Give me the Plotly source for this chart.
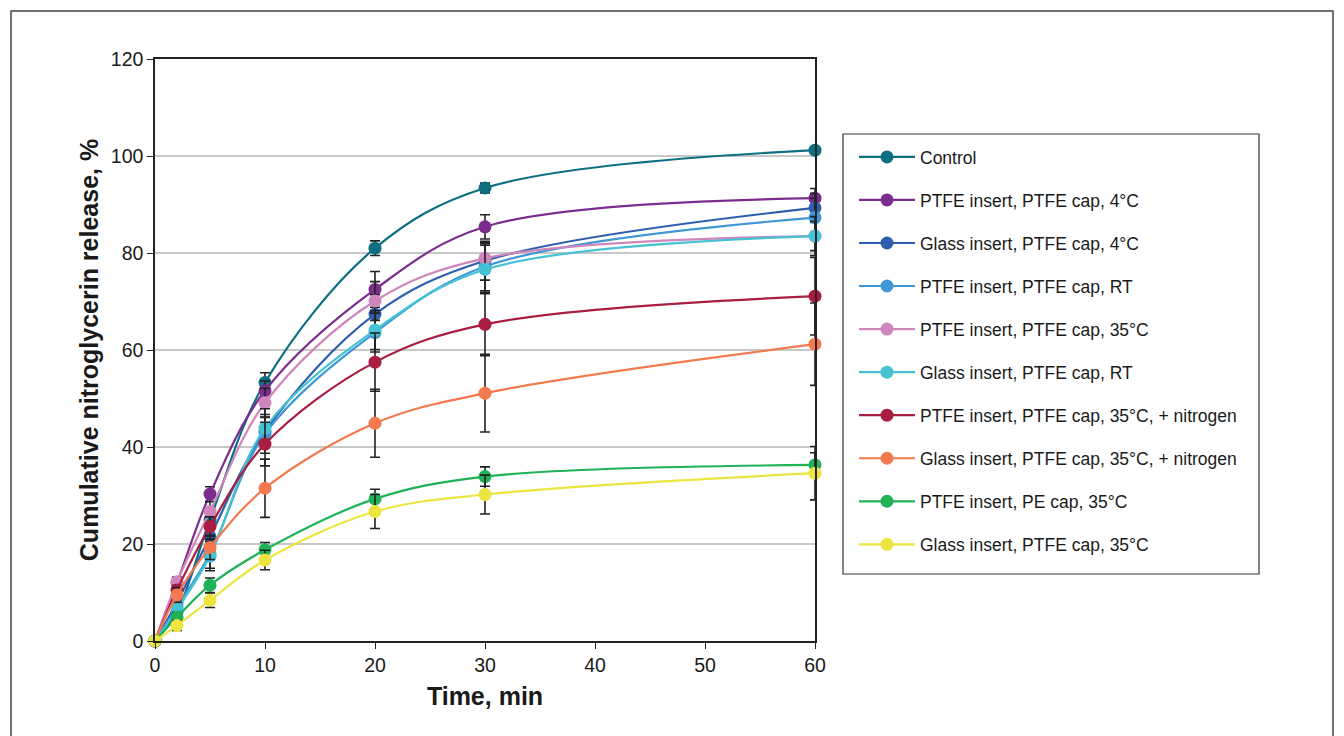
import plotly.graph_objects as go

time_min = [0, 2, 5, 10, 20, 30, 60]

series_names = [
    "Control",
    "PTFE insert, PTFE cap, 4°C",
    "Glass insert, PTFE cap, 4°C",
    "PTFE insert, PTFE cap, RT",
    "PTFE insert, PTFE cap, 35°C",
    "Glass insert, PTFE cap, RT",
    "PTFE insert, PTFE cap, 35°C, + nitrogen",
    "Glass insert, PTFE cap, 35°C, + nitrogen",
    "PTFE insert, PE cap, 35°C",
    "Glass insert, PTFE cap, 35°C",
]

control = [0, 6.0, 25.0, 53.3, 81.0, 93.4, 101.2]
ptfe_ptfe_4c = [0, 12.0, 30.3, 51.6, 72.5, 85.4, 91.3]
glass_ptfe_4c = [0, 8.0, 21.5, 43.2, 67.4, 78.4, 89.3]
ptfe_ptfe_rt = [0, 7.0, 18.0, 42.7, 63.6, 77.2, 87.3]
ptfe_ptfe_35c = [0, 12.2, 26.7, 49.1, 70.1, 78.9, 83.5]
glass_ptfe_rt = [0, 6.5, 17.5, 43.9, 64.1, 76.6, 83.5]
ptfe_ptfe_35c_n2 = [0, 10.5, 23.6, 40.6, 57.5, 65.3, 71.1]
glass_ptfe_35c_n2 = [0, 9.5, 19.3, 31.5, 44.9, 51.1, 61.2]
ptfe_pe_35c = [0, 4.9, 11.5, 18.8, 29.3, 33.9, 36.3]
glass_ptfe_35c = [0, 3.2, 8.4, 16.7, 26.7, 30.2, 34.6]

err_control = [0, 1.0, 1.0, 2.0, 1.5, 1.0, 0.5]
err_ptfe_ptfe_4c = [0, 1.0, 1.5, 2.0, 3.7, 2.5, 2.0]
err_glass_ptfe_4c = [0, 1.5, 2.0, 3.0, 4.0, 4.0, 3.0]
err_ptfe_ptfe_rt = [0, 2.0, 3.0, 4.0, 4.0, 5.0, 4.0]
err_ptfe_ptfe_35c = [0, 1.0, 2.0, 3.0, 4.0, 3.0, 3.0]
err_glass_ptfe_rt = [0, 2.0, 3.0, 4.0, 4.0, 5.0, 4.0]
err_ptfe_ptfe_35c_n2 = [0, 1.0, 2.0, 4.5, 6.0, 6.5, 8.0]
err_glass_ptfe_35c_n2 = [0, 1.5, 2.5, 6.0, 7.0, 8.0, 8.5]
err_ptfe_pe_35c = [0, 1.0, 1.5, 1.5, 2.0, 2.0, 2.5]
err_glass_ptfe_35c = [0, 1.0, 1.5, 2.0, 3.5, 4.0, 5.5]

series_values = [control, ptfe_ptfe_4c, glass_ptfe_4c, ptfe_ptfe_rt, ptfe_ptfe_35c,
                 glass_ptfe_rt, ptfe_ptfe_35c_n2, glass_ptfe_35c_n2, ptfe_pe_35c, glass_ptfe_35c]
series_errors = [err_control, err_ptfe_ptfe_4c, err_glass_ptfe_4c, err_ptfe_ptfe_rt, err_ptfe_ptfe_35c,
                 err_glass_ptfe_rt, err_ptfe_ptfe_35c_n2, err_glass_ptfe_35c_n2, err_ptfe_pe_35c, err_glass_ptfe_35c]
colors = ["#0e6f82", "#7b2d8e", "#2e5fae", "#3f97d6", "#cf86bd",
          "#45c2d4", "#a81d40", "#f37a4e", "#1fb257", "#ece540"]

x_ticks = [0, 10, 20, 30, 40, 50, 60]
y_ticks = [0, 20, 40, 60, 80, 100, 120]

FONT = "Liberation Sans, Arial, Helvetica, sans-serif"
L, R, T, B = 155, 815, 59, 641
W, H = R - L, B - T


def px_x(p):
    return (p - L) / W


def px_y(p):
    return (B - p) / H


fig = go.Figure()
for i, (name, vals, errs, col) in enumerate(zip(series_names, series_values, series_errors, colors)):
    fig.add_trace(go.Scatter(
        x=time_min, y=vals, name=name, mode="lines+markers",
        legendgroup=f"g{i}",
        line=dict(color=col, width=2.2, shape="spline", smoothing=1.0),
        marker=dict(color=col, size=13),
        error_y=dict(type="data", array=errs, visible=True, color="#222222", thickness=1.6, width=5),
        cliponaxis=False,
    ))

# outer frame
fig.add_shape(type="rect", xref="paper", yref="paper",
              x0=px_x(11), x1=px_x(1333), y0=px_y(780), y1=px_y(11),
              line=dict(color="#444444", width=1.5), layer="below")
# legend box
fig.add_shape(type="rect", xref="paper", yref="paper",
              x0=px_x(843), x1=px_x(1259), y0=px_y(574), y1=px_y(134),
              line=dict(color="#333333", width=1.2), layer="below")

fig.update_layout(
    width=1344, height=736,
    margin=dict(l=L, r=1344 - R, t=T, b=736 - B),
    paper_bgcolor="white", plot_bgcolor="white",
    font=dict(family=FONT, color="#1a1a1a"),
    showlegend=True,
    legend=dict(
        x=px_x(854), y=px_y(139), xanchor="left", yanchor="top",
        borderwidth=0, bgcolor="rgba(0,0,0,0)",
        font=dict(size=17.5, family=FONT, color="#1a1a1a"),
        tracegroupgap=17.3, itemwidth=56,
    ),
    xaxis=dict(
        range=[0, 60], tickvals=x_ticks, ticktext=[str(v) for v in x_ticks],
        ticks="outside", ticklen=6, tickcolor="#222", tickfont=dict(size=19.5),
        showline=True, linecolor="#222", linewidth=1.5, mirror=True,
        showgrid=False, zeroline=False,
        title=dict(text="<b>Time, min</b>", font=dict(size=25), standoff=12),
    ),
    yaxis=dict(
        range=[0, 120], tickvals=y_ticks, ticktext=[str(v) for v in y_ticks],
        ticks="outside", ticklen=6, tickcolor="#222", tickfont=dict(size=19.5),
        showline=True, linecolor="#222", linewidth=1.5, mirror=True,
        showgrid=True, gridcolor="#c8c8c8", gridwidth=1.5, zeroline=False,
        title=dict(text="<b>Cumulative nitroglycerin release, %</b>", font=dict(size=25), standoff=5),
    ),
)

fig.write_html("out.html")
